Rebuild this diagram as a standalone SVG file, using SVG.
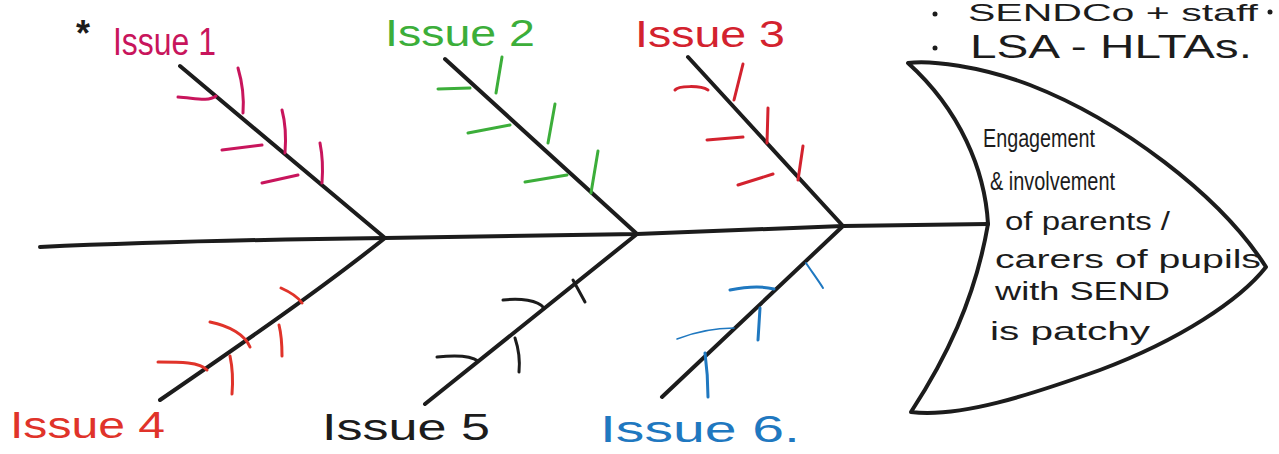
<svg xmlns="http://www.w3.org/2000/svg" width="1279" height="454" viewBox="0 0 1279 454">
<style>
text{font-family:"Liberation Sans","DejaVu Sans",sans-serif;}
.bone{fill:none;stroke:#1c1c1c;stroke-width:4;stroke-linecap:round;stroke-linejoin:round;}
.tick{fill:none;stroke-width:3;stroke-linecap:round;stroke-linejoin:round;}
.lbl{font-size:36px;}
.head-t{font-size:26px;fill:#1c1c1c;}
.c1{stroke:#c8155c;} .c2{stroke:#3cae3a;} .c3{stroke:#d3222e;} .c4{stroke:#e0332a;} .c5{stroke:#1c1c1c;} .c6{stroke:#1f78c0;}
</style>
<rect width="1279" height="454" fill="#ffffff"/>

<g id="connectors">
  <path class="bone" d="M40,247 C150,242 300,239 385,238 L637,234 L843,226 L988,224"/>
  <path class="bone" d="M180,66 L385,238"/>
  <path class="bone" d="M445,59 L637,234"/>
  <path class="bone" d="M688,57 L843,226"/>
  <path class="bone" d="M385,238 C320,290 240,345 160,400"/>
  <path class="bone" d="M637,234 L425,404"/>
  <path class="bone" d="M843,226 L662,397"/>
</g>

<g id="head">
  <path class="bone" d="M908,63 C930,60 980,66 1030,85 C1120,120 1220,195 1266,267 C1240,300 1180,340 1100,370 C1030,395 960,418 911,412 C945,360 975,300 988,224 C985,170 960,110 908,63 Z"/>
  <text class="head-t" x="983" y="147" textLength="112" lengthAdjust="spacingAndGlyphs">Engagement</text>
  <text class="head-t" x="990" y="190" textLength="125" lengthAdjust="spacingAndGlyphs">&amp; involvement</text>
  <text class="head-t" x="1005" y="230" textLength="165" lengthAdjust="spacingAndGlyphs">of parents /</text>
  <text class="head-t" x="995" y="268" textLength="266" lengthAdjust="spacingAndGlyphs">carers of pupils</text>
  <text class="head-t" x="995" y="300" textLength="175" lengthAdjust="spacingAndGlyphs">with SEND</text>
  <text class="head-t" x="990" y="340" textLength="160" lengthAdjust="spacingAndGlyphs">is patchy</text>
</g>

<g id="notes">
  <circle cx="935" cy="14" r="2.5" fill="#1c1c1c"/>
  <text x="968" y="21" font-size="24" fill="#1c1c1c" textLength="290" lengthAdjust="spacingAndGlyphs">SENDCo + staff</text>
  <circle cx="1270" cy="12" r="2.5" fill="#1c1c1c"/>
  <circle cx="935" cy="48" r="2.5" fill="#1c1c1c"/>
  <text x="970" y="58" font-size="34" fill="#1c1c1c" textLength="282" lengthAdjust="spacingAndGlyphs">LSA - HLTAs.</text>
</g>

<g id="issue1">
  <text x="76" y="46" font-size="36" font-weight="bold" fill="#1c1c1c">*</text>
  <text class="lbl" x="113" y="55" font-size="38" fill="#c8155c" textLength="103" lengthAdjust="spacingAndGlyphs" style="font-size:38px">Issue 1</text>
  <path class="tick c1" d="M178,97 C195,98 208,102 216,96"/>
  <path class="tick c1" d="M238,68 C243,85 244,100 243,113"/>
  <path class="tick c1" d="M222,150 L262,145"/>
  <path class="tick c1" d="M282,110 C286,125 286,140 285,153"/>
  <path class="tick c1" d="M262,183 L298,175"/>
  <path class="tick c1" d="M320,143 C323,158 323,170 322,183"/>
</g>

<g id="issue2">
  <text class="lbl" x="385" y="46" fill="#3cae3a" textLength="150" lengthAdjust="spacingAndGlyphs">Issue 2</text>
  <path class="tick c2" d="M438,89 L470,88"/>
  <path class="tick c2" d="M502,57 L496,93"/>
  <path class="tick c2" d="M468,133 L510,125"/>
  <path class="tick c2" d="M555,104 L548,143"/>
  <path class="tick c2" d="M525,182 L567,175"/>
  <path class="tick c2" d="M598,151 L591,193"/>
</g>

<g id="issue3">
  <text class="lbl" x="635" y="47" fill="#d3222e" textLength="150" lengthAdjust="spacingAndGlyphs">Issue 3</text>
  <path class="tick c3" d="M675,90 C678,86 700,85 708,90"/>
  <path class="tick c3" d="M743,64 L734,100"/>
  <path class="tick c3" d="M707,140 L743,137"/>
  <path class="tick c3" d="M768,108 L767,143"/>
  <path class="tick c3" d="M738,185 L773,174"/>
  <path class="tick c3" d="M803,146 L798,180"/>
</g>

<g id="issue4">
  <text class="lbl" x="10" y="438" fill="#e0332a" textLength="155" lengthAdjust="spacingAndGlyphs">Issue 4</text>
  <path class="tick c4" d="M158,362 C180,362 200,362 207,370"/>
  <path class="tick c4" d="M230,356 C233,370 233,382 232,394"/>
  <path class="tick c4" d="M210,322 C230,326 245,335 250,347"/>
  <path class="tick c4" d="M279,325 C282,337 282,347 282,356"/>
  <path class="tick c4" d="M281,288 C290,292 298,297 302,303"/>
</g>

<g id="issue5">
  <text class="lbl" x="322" y="440" fill="#1c1c1c" textLength="168" lengthAdjust="spacingAndGlyphs">Issue 5</text>
  <path class="tick c5" d="M437,357 C455,355 470,355 478,361"/>
  <path class="tick c5" d="M515,338 C519,350 520,362 519,372"/>
  <path class="tick c5" d="M503,300 C520,298 538,300 544,308"/>
  <path class="tick c5" d="M573,280 L585,302"/>
</g>

<g id="issue6">
  <text class="lbl" x="600" y="442" fill="#1f78c0" textLength="200" lengthAdjust="spacingAndGlyphs">Issue 6.</text>
  <path class="tick c6" style="stroke-width:1.6" d="M677,339 C695,332 715,328 734,328"/>
  <path class="tick c6" d="M705,353 C707,368 708,383 708,397"/>
  <path class="tick c6" d="M730,290 C745,287 762,286 774,289"/>
  <path class="tick c6" d="M760,308 L758,340"/>
  <path class="tick c6" style="stroke-width:2" d="M806,263 C812,272 818,280 823,288"/>
</g>
</svg>
